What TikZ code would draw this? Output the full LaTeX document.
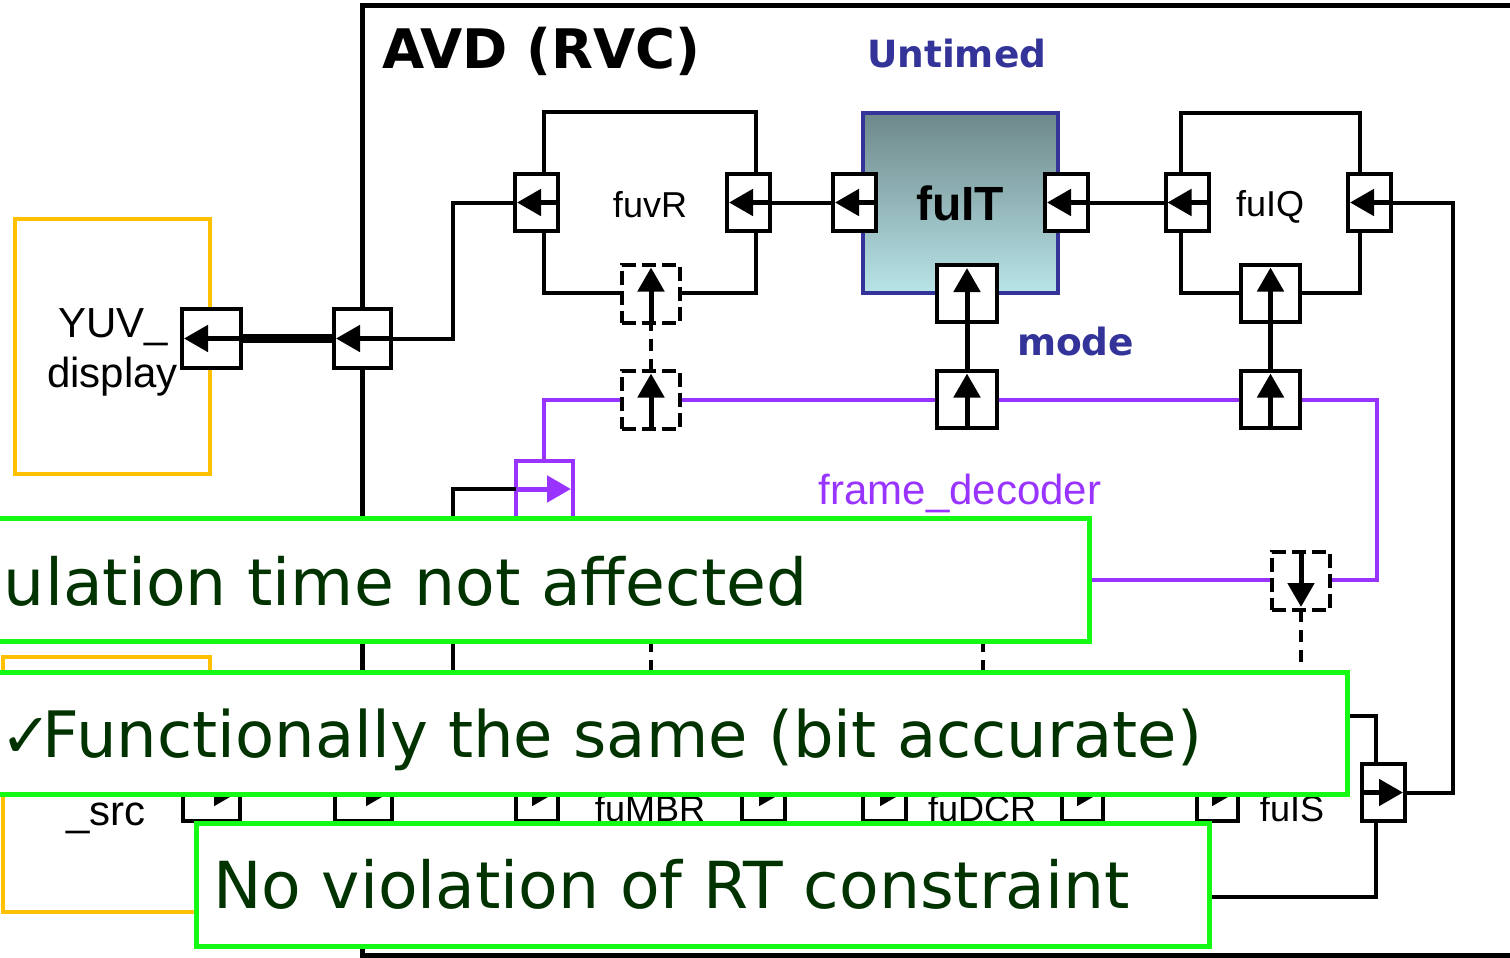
\documentclass[tikz,border=0pt]{standalone}
\usepackage{fontspec}
\setmainfont{DejaVu Sans}
\newfontfamily\arialf{Liberation Sans}
\newfontfamily\verdf{DejaVu Sans}
\usetikzlibrary{arrows.meta}
\definecolor{ylw}{RGB}{255,192,0}
\definecolor{prp}{RGB}{153,51,255}
\definecolor{navy}{RGB}{51,51,153}
\definecolor{grn}{RGB}{20,250,20}
\definecolor{dgrn}{RGB}{0,51,0}
\definecolor{tealtop}{RGB}{110,136,138}
\definecolor{tealbot}{RGB}{184,228,232}
\begin{document}
\begin{tikzpicture}[x=1pt,y=-1pt,
  every node/.style={inner sep=0pt, outer sep=0pt},
  portbox/.style={draw=black, line width=4pt, fill=white, rectangle, minimum width=43pt, minimum height=57pt},
  wideport/.style={portbox, minimum width=60pt},
  dport/.style={portbox, minimum width=58pt, minimum height=58pt, dash pattern=on 14pt off 6pt},
  pport/.style={portbox, draw=prp, minimum width=57pt, minimum height=57pt},
  blk/.style={draw=black, line width=4pt},
  wire/.style={draw=black, line width=4pt},
  sig/.style={draw=black, line width=5pt, -{Triangle[length=24pt,width=26pt]}},
  dwire/.style={draw=black, line width=4pt, dash pattern=on 12pt off 8pt},
  greenbox/.style={draw=grn, line width=5pt, fill=white},
  msg/.style={font=\verdf\fontsize{64.8}{70}\selectfont, text=dgrn, anchor=base west},
  lbl/.style={font=\arialf\fontsize{36}{40}\selectfont, anchor=base},
  big/.style={font=\arialf\fontsize{42}{46}\selectfont, anchor=base},
  head/.style={font=\verdf\bfseries\fontsize{37.5}{40}\selectfont, text=navy, anchor=base west},
]
\useasboundingbox (0,0) rectangle (1510,958);
\fill[white] (0,0) rectangle (1510,958);
\clip (0,0) rectangle (1510,958);

% AVD frame
\draw[wire, line width=5pt] (1540,6) -- (362,6) -- (362,955) -- (1540,955);
\node[font=\verdf\bfseries\fontsize{54.5}{60}\selectfont, anchor=base west] (avd) at (382,69) {AVD (RVC)};
\node[head] (untimed) at (867,68) {Untimed};
\node[head] (mode) at (1017,355) {mode};

% yellow external actors
\draw[ylw, line width=4pt] (15,219) rectangle (210,474);
\draw[ylw, line width=4pt] (3,657) rectangle (210,912);

% blocks
\draw[blk] (544,112) rectangle (756,293);
\draw[blk] (1181,113) rectangle (1360,293);
\path[top color=tealtop, bottom color=tealbot, draw=navy, line width=4pt] (863,113) rectangle (1058,293);
\draw[prp, line width=4pt] (544,400) rectangle (1377,580);
\draw[blk] (1205,716) rectangle (1376,897);

% dashed links hidden partly by the boxes
\coordinate (c6) at (651,580);
\coordinate (c7) at (651,716);
\coordinate (c8) at (983,580);
\coordinate (c9) at (983,716);
\draw[dwire] (c6) -- (c7);
\draw[dwire] (c8) -- (c9);

% ports
\node[portbox] (P1) at (536.5,202.5) {};
\node[portbox] (P2) at (748.5,202.5) {};
\node[portbox] (P3) at (854.5,202.5) {};
\node[portbox] (P4) at (1066.5,202.5) {};
\node[wideport] (P5) at (967,293.5) {};
\node[wideport] (P6) at (967,399) {};
\node[portbox] (P7) at (1187,202.5) {};
\node[portbox] (P8) at (1369.5,202.5) {};
\node[wideport, minimum width=59pt] (P9) at (1270.5,293) {};
\node[wideport, minimum width=59pt] (P10) at (1270.5,399) {};
\node[dport] (D1) at (651,293.5) {};
\node[dport] (D2) at (651,399.5) {};
\node[dport] (D3) at (1301,581) {};
\node[portbox, minimum width=59pt, minimum height=59pt] (YP) at (211.5,338.5) {};
\node[portbox, minimum width=57pt, minimum height=59pt] (BP) at (362.5,338.5) {};
\node[pport] (PP) at (544.5,489) {};
\node[portbox, minimum width=57pt] (B1) at (211.5,792.5) {};
\node[portbox, minimum width=57pt] (B2) at (363.5,792.5) {};
\node[portbox, minimum width=42pt] (B3) at (537,792.5) {};
\node[portbox] (B4) at (763.5,792.5) {};
\node[portbox] (B5) at (884.5,792.5) {};
\node[portbox, minimum width=41pt] (B6) at (1082.5,792.5) {};
\node[portbox, minimum width=41pt] (B7) at (1217.5,792.5) {};
\node[portbox] (PS) at (1383.5,792.5) {};

% wires
\coordinate (c1) at (453,202.5);
\coordinate (c2) at (453,338.5);
\coordinate (c3) at (1453,202.5);
\coordinate (c4) at (1453,792.5);
\coordinate (c5) at (1301,716);
\coordinate (c10) at (453,489);
\coordinate (c11) at (453,792.5);
\draw[wire] (P3.west) -- (P2.east);
\draw[wire] (P7.west) -- (P4.east);
\draw[wire] (P1.west) -- (c1) -- (c2) -- (BP.east);
\draw[wire] (P8.east) -- (c3) -- (c4) -- (PS.east);
\draw[wire] (PP.west) -- (c10) -- (c11) -- (B2.east);
\draw[black, line width=9pt] (BP.west) -- (YP.east);

% port arrows
\foreach \p in {P1,P2,P3,P4,P7,P8,BP,YP}
  \draw[sig] (\p.east) -- ([xshift=2pt]\p.west);
\foreach \p in {B1,B2,B3,B4,B5,B6,B7,PS}
  \draw[sig] (\p.west) -- ([xshift=-2pt]\p.east);
\draw[sig, draw=prp] (PP.west) -- ([xshift=-2pt]PP.east);
\draw[sig] (P6.south) -- ([yshift=-3pt]P6.north);
\draw[sig] (P6.north) -- ([yshift=-3pt]P5.north);
\draw[sig] (P10.south) -- ([yshift=-3pt]P10.north);
\draw[sig] (P10.north) -- ([yshift=-3pt]P9.north);
\draw[sig] (D2.south) -- ([yshift=-3pt]D2.north);
\draw[dwire] (D2.north) -- (D1.south);
\draw[sig] (D1.south) -- ([yshift=-3pt]D1.north);
\draw[sig] (D3.north) -- ([yshift=3pt]D3.south);
\draw[dwire] (D3.south) -- (c5);

% labels
\node[lbl] (fuvr) at (650,217) {fuvR};
\node[lbl] (fuiq) at (1270,216) {fuIQ};
\node[font=\arialf\bfseries\fontsize{48}{50}\selectfont, anchor=base] (fuit) at (960,220) {fuIT};
\node[big] (yuv1) at (113,337) {YUV\_};
\node[big] (yuv2) at (112.5,387) {display};
\node[big] (src) at (106,825) {\_src};
\node[big, text=prp] (fd) at (960,504) {frame\_decoder};
\node[lbl] (fumbr) at (650,821) {fuMBR};
\node[lbl] (fudcr) at (982,821) {fuDCR};
\node[lbl] (fuis) at (1292,821) {fuIS};

% green callouts
\draw[greenbox] (-20,518) rectangle (1089,641);
\node[msg] (t1) at (4,605) {ulation time not affected};
\draw[greenbox] (-20,672) rectangle (1347,794);
\node[msg, font=\verdf\fontsize{64}{70}\selectfont] (t2) at (1,757) {{\fontsize{62}{64}\selectfont ✓}\kern-10pt Functionally the same (bit accurate)};
\draw[greenbox] (196,823) rectangle (1209,946);
\node[msg] (t3) at (213,908) {No violation of RT constraint};
\end{tikzpicture}
\end{document}
